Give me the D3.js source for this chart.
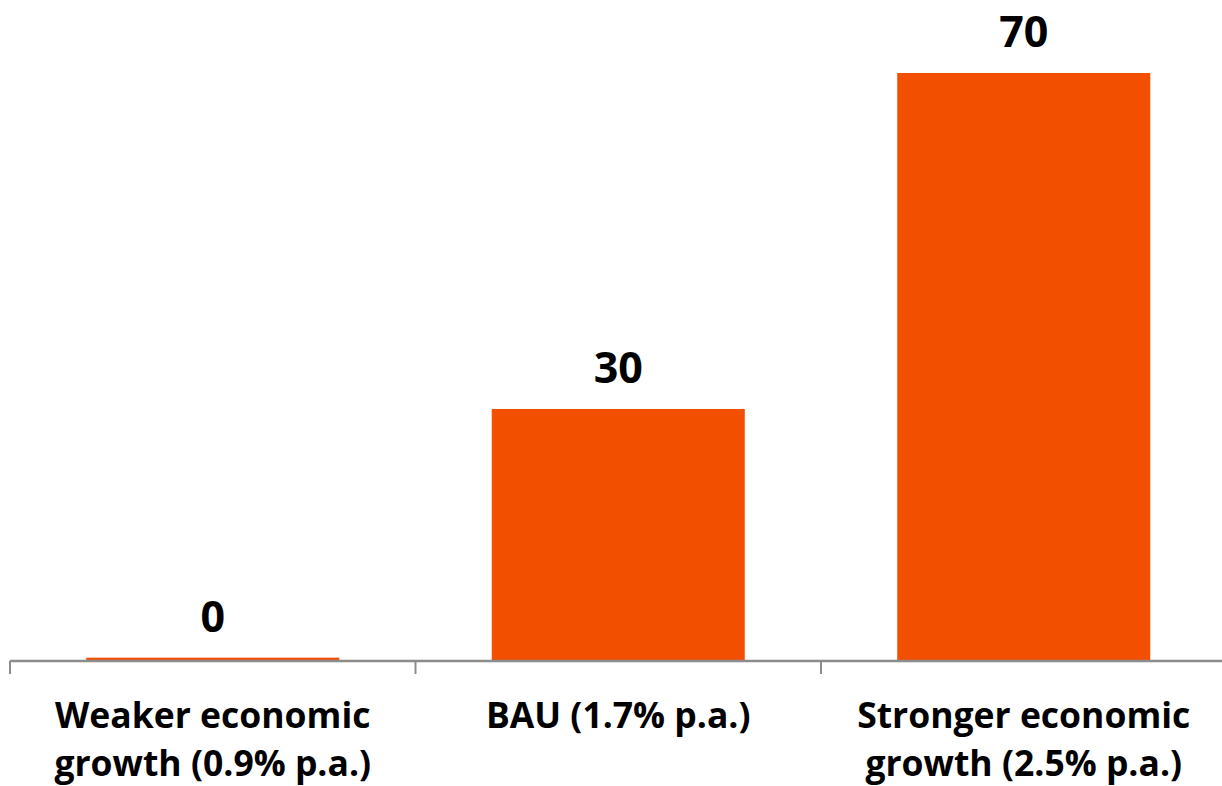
<!DOCTYPE html>
<html>
<head>
<meta charset="utf-8">
<script src="https://cdn.jsdelivr.net/npm/d3@7"></script>
<style>
  html, body { margin: 0; padding: 0; background: #ffffff; }
  svg { display: block; }
  text { font-family: "Open Sans", Lato, sans-serif; font-weight: 700; fill: #000; }
</style>
</head>
<body>
<svg id="chart" width="1222" height="786"></svg>
<script>
// Scenario categories (each label split over lines)
const categories = ["weaker", "bau", "stronger"];
const categoryLines = [
  ["Weaker economic", "growth (0.9% p.a.)"],
  ["BAU (1.7% p.a.)"],
  ["Stronger economic", "growth (2.5% p.a.)"]
];
const values = [0.4, 30, 70];

const W = 1222, H = 786;
const svg = d3.select("#chart");

const x = d3.scaleBand()
  .domain(categories)
  .range([10, 1226.5])
  .paddingInner(0.376)
  .paddingOuter(0.188);

const y = d3.scaleLinear()
  .domain([0, 70])
  .range([661, 73]);

const fmt = d3.format(".0f");
const barColor = "#F25000";
const axisColor = "#8C8C8C";

// bars
svg.append("g")
  .selectAll("rect")
  .data(values)
  .join("rect")
  .attr("x", (d, i) => x(categories[i]))
  .attr("width", x.bandwidth())
  .attr("y", d => y(d))
  .attr("height", d => y(0) - y(d))
  .attr("fill", barColor);

// category axis: baseline and boundary ticks
const axis = svg.append("g");
axis.append("line")
  .attr("x1", x.range()[0]).attr("x2", W)
  .attr("y1", y(0)).attr("y2", y(0))
  .attr("stroke", axisColor).attr("stroke-width", 2.6);

const tickPos = d3.range(categories.length + 1).map(i => x.range()[0] + i * x.step());
axis.selectAll("line.tick")
  .data(tickPos.filter(p => p <= W))
  .join("line")
  .attr("class", "tick")
  .attr("x1", d => d).attr("x2", d => d)
  .attr("y1", y(0)).attr("y2", y(0) + 13)
  .attr("stroke", axisColor).attr("stroke-width", 2);

// category labels
const labels = svg.append("g")
  .selectAll("text")
  .data(categories)
  .join("text")
  .attr("text-anchor", "middle")
  .attr("font-size", 35.5)
  .attr("x", c => x(c) + x.bandwidth() / 2)
  .attr("y", 727.5);
labels.selectAll("tspan")
  .data((c, i) => categoryLines[i])
  .join("tspan")
  .attr("x", function() { return d3.select(this.parentNode).attr("x"); })
  .attr("dy", (d, j) => j === 0 ? 0 : 48.5)
  .text(d => d);

// value labels
svg.append("g")
  .selectAll("text")
  .data(values)
  .join("text")
  .attr("text-anchor", "middle")
  .attr("font-size", 43)
  .attr("x", (d, i) => x(categories[i]) + x.bandwidth() / 2)
  .attr("y", d => y(d) - 26)
  .text(d => fmt(d));
</script>
</body>
</html>
